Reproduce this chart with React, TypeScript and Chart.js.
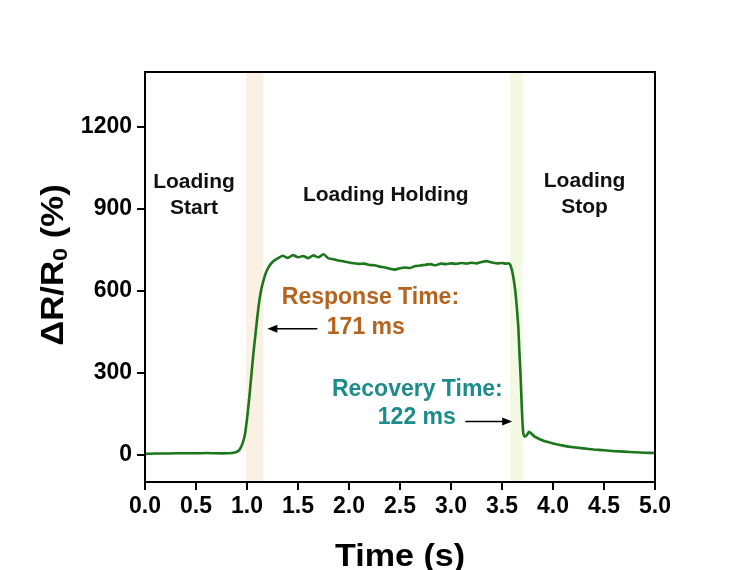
import React, { useEffect, useRef } from "react";
import { Chart, registerables } from "chart.js";

Chart.register(...registerables);

const FONT = "'Liberation Sans', Arial, Helvetica, sans-serif";

// time (s)
const timeS = [
  0.0, 0.1, 0.2, 0.3, 0.4, 0.5, 0.6, 0.7, 0.8, 0.85, 0.9, 0.93, 0.96, 0.98,
  1.0, 1.02, 1.04, 1.06, 1.08, 1.1, 1.12, 1.14, 1.16, 1.18, 1.21, 1.25, 1.3,
  1.35, 1.4, 1.45, 1.5, 1.55, 1.6, 1.65, 1.7, 1.75, 1.8, 1.85, 1.9, 1.95, 2.0,
  2.05, 2.1, 2.15, 2.2, 2.25, 2.3, 2.35, 2.4, 2.45, 2.5, 2.55, 2.6, 2.65, 2.7,
  2.75, 2.8, 2.85, 2.9, 2.95, 3.0, 3.05, 3.1, 3.15, 3.2, 3.25, 3.3, 3.35, 3.4,
  3.45, 3.5, 3.54, 3.56, 3.58, 3.6, 3.615, 3.63, 3.645, 3.66, 3.67, 3.683,
  3.69, 3.7, 3.71, 3.725, 3.745, 3.765, 3.785, 3.82, 3.85, 3.9, 3.95, 4.0,
  4.1, 4.2, 4.3, 4.4, 4.5, 4.6, 4.7, 4.8, 4.9, 5.0,
];

// ΔR/R0 (%)
const deltaR = [
  3, 4, 4, 5, 5, 5, 6, 5, 5, 6, 10, 20, 45, 75,
  130, 200, 280, 360, 430, 500, 560, 605, 635, 660, 685, 705, 718,
  728, 720, 730, 722, 727, 719, 729, 722, 733, 718, 715, 710, 707, 703,
  700, 698, 699, 694, 693, 688, 685, 680, 677, 682, 685, 683, 690, 692,
  695, 697, 693, 699, 697, 700, 698, 701, 699, 702, 700, 705, 708, 703,
  700, 701, 699, 700, 695, 670, 640, 600, 540, 466, 380, 283,
  210, 124, 75, 66, 72, 84, 78, 66, 60, 52, 46, 41,
  33, 27, 23, 19, 16, 13, 11, 9, 7, 6,
];

const yTickValues = [0, 300, 600, 900, 1200];

// shaded intervals [start, end] in seconds
const responseBand = [0.99, 1.16];
const recoveryBand = [3.58, 3.7];

const stageLabels = [
  { lines: ["Loading", "Start"], x: 0.48, y: [995, 900] },
  { lines: ["Loading Holding"], x: 2.36, y: [950] },
  { lines: ["Loading", "Stop"], x: 4.31, y: [1000, 905] },
];

const responseLabel = { lines: ["Response Time:", "171 ms"], x: [2.21, 2.165], y: [574, 463], color: "#B4641E" };
const recoveryLabel = { lines: ["Recovery Time:", "122 ms"], x: [2.67, 2.665], y: [238, 134], color: "#1D8B8B" };

const responseArrow = { from: [1.69, 461], to: [1.2, 461] };
const recoveryArrow = { from: [3.14, 121], to: [3.6, 121] };

function drawArrow(ctx: CanvasRenderingContext2D, x1: number, y1: number, x2: number, y2: number) {
  const ang = Math.atan2(y2 - y1, x2 - x1);
  const headLen = 10;
  const headW = 4;
  ctx.save();
  ctx.strokeStyle = "#000";
  ctx.fillStyle = "#000";
  ctx.lineWidth = 1.5;
  ctx.beginPath();
  ctx.moveTo(x1, y1);
  ctx.lineTo(x2 - Math.cos(ang) * headLen * 0.8, y2 - Math.sin(ang) * headLen * 0.8);
  ctx.stroke();
  ctx.beginPath();
  ctx.moveTo(x2, y2);
  ctx.lineTo(x2 - Math.cos(ang) * headLen - Math.sin(ang) * headW, y2 - Math.sin(ang) * headLen + Math.cos(ang) * headW);
  ctx.lineTo(x2 - Math.cos(ang) * headLen + Math.sin(ang) * headW, y2 - Math.sin(ang) * headLen - Math.cos(ang) * headW);
  ctx.closePath();
  ctx.fill();
  ctx.restore();
}

const decorPlugin = {
  id: "decor",
  beforeDatasetsDraw(chart: any) {
    const { ctx, chartArea, scales } = chart;
    const xs = scales.x;
    ctx.save();
    ctx.fillStyle = "rgba(246, 230, 210, 0.6)";
    const a1 = xs.getPixelForValue(responseBand[0]);
    const b1 = xs.getPixelForValue(responseBand[1]);
    ctx.fillRect(a1, chartArea.top, b1 - a1, chartArea.bottom - chartArea.top);
    ctx.fillStyle = "rgba(238, 246, 214, 0.7)";
    const a2 = xs.getPixelForValue(recoveryBand[0]);
    const b2 = xs.getPixelForValue(recoveryBand[1]);
    ctx.fillRect(a2, chartArea.top, b2 - a2, chartArea.bottom - chartArea.top);
    ctx.restore();
  },
  afterDraw(chart: any) {
    const { ctx, chartArea, scales } = chart;
    const xs = scales.x;
    const ys = scales.y;
    ctx.save();
    // frame
    ctx.strokeStyle = "#000";
    ctx.lineWidth = 2;
    ctx.strokeRect(chartArea.left, chartArea.top, chartArea.right - chartArea.left, chartArea.bottom - chartArea.top);

    // stage labels
    ctx.fillStyle = "#111";
    ctx.font = `bold 21px ${FONT}`;
    ctx.textAlign = "center";
    ctx.textBaseline = "middle";
    for (const s of stageLabels) {
      s.lines.forEach((t, i) => {
        ctx.fillText(t, xs.getPixelForValue(s.x), ys.getPixelForValue(s.y[i]));
      });
    }
    // annotations
    ctx.font = `bold 23px ${FONT}`;
    for (const lab of [responseLabel, recoveryLabel]) {
      ctx.fillStyle = lab.color;
      lab.lines.forEach((t, i) => {
        ctx.fillText(t, xs.getPixelForValue(lab.x[i]), ys.getPixelForValue(lab.y[i]));
      });
    }
    for (const ar of [responseArrow, recoveryArrow]) {
      drawArrow(
        ctx,
        xs.getPixelForValue(ar.from[0]),
        ys.getPixelForValue(ar.from[1]),
        xs.getPixelForValue(ar.to[0]),
        ys.getPixelForValue(ar.to[1])
      );
    }

    // x title
    ctx.save();
    ctx.fillStyle = "#000";
    ctx.font = `bold 31px ${FONT}`;
    ctx.textAlign = "center";
    ctx.textBaseline = "alphabetic";
    ctx.translate((chartArea.left + chartArea.right) / 2, 566);
    ctx.scale(1.1, 1);
    ctx.fillText("Time (s)", 0, 0);
    ctx.restore();

    // y title with subscript
    ctx.save();
    ctx.fillStyle = "#000";
    ctx.translate(54, 265);
    ctx.rotate(-Math.PI / 2);
    ctx.scale(1.12, 1);
    const big = `bold 31px ${FONT}`;
    const small = `bold 21px ${FONT}`;
    const p1 = "\u0394R/R";
    const p2 = "0";
    const p3 = " (%)";
    ctx.font = big;
    const w1 = ctx.measureText(p1).width;
    const w3 = ctx.measureText(p3).width;
    ctx.font = small;
    const w2 = ctx.measureText(p2).width;
    const total = w1 + w2 + w3;
    let x = -total / 2;
    ctx.textAlign = "left";
    ctx.font = big;
    ctx.fillText(p1, x, 0);
    x += w1;
    ctx.font = small;
    ctx.fillText(p2, x, 7);
    x += w2;
    ctx.font = big;
    ctx.fillText(p3, x, 0);
    ctx.restore();

    ctx.restore();
  },
};

export default function App() {
  const ref = useRef<HTMLCanvasElement | null>(null);
  useEffect(() => {
    if (!ref.current) return;
    const points = timeS.map((t, i) => ({ x: t, y: deltaR[i] }));
    const chart = new Chart(ref.current, {
      type: "line",
      data: {
        datasets: [
          {
            data: points,
            borderColor: "#1C761C",
            borderWidth: 2.6,
            pointRadius: 0,
            tension: 0.2,
            fill: false,
          },
        ],
      },
      options: {
        responsive: false,
        animation: false,
        layout: { padding: { left: 0, right: 92, top: 72, bottom: 0 } },
        plugins: { legend: { display: false }, tooltip: { enabled: false } },
        scales: {
          x: {
            type: "linear",
            min: 0,
            max: 5,
            afterFit(scale: any) {
              scale.height = 88;
            },
            ticks: {
              stepSize: 0.5,
              autoSkip: false,
              maxRotation: 0,
              padding: 3,
              color: "#000",
              font: { family: FONT, size: 23, weight: "bold" },
              callback: (v: any) => Number(v).toFixed(1),
            },
            grid: { drawOnChartArea: false, drawTicks: true, tickLength: 8, color: "#000", lineWidth: 2 },
            border: { display: false },
          },
          y: {
            type: "linear",
            min: -100,
            max: 1400,
            afterFit(scale: any) {
              scale.width = 145;
            },
            afterBuildTicks(scale: any) {
              scale.ticks = yTickValues.map((v) => ({ value: v }));
            },
            ticks: {
              padding: 5,
              color: "#000",
              font: { family: FONT, size: 23, weight: "bold" },
              callback: (v: any) => String(v),
            },
            grid: { drawOnChartArea: false, drawTicks: true, tickLength: 8, color: "#000", lineWidth: 2 },
            border: { display: false },
          },
        },
      },
      plugins: [decorPlugin],
    });
    return () => chart.destroy();
  }, []);
  return (
    <div style={{ position: "absolute", left: 0, top: 0, width: 747, height: 570, background: "#fff" }}>
      <canvas ref={ref} width={747} height={570} style={{ display: "block" }} />
    </div>
  );
}
